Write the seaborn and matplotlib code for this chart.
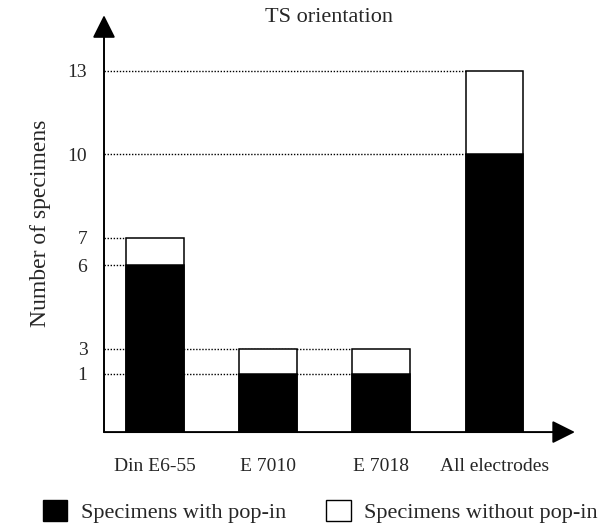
import matplotlib
matplotlib.use("Agg")
import matplotlib.pyplot as plt
import seaborn as sns
import pandas as pd
from matplotlib.patches import Patch

# Data (bar heights as drawn)
categories = ["Din E6-55", "E 7010", "E 7018", "All electrodes"]
total_specimens = [7, 3, 3, 13]
with_popin = [6, 2.1, 2.1, 10]
tick_labels = {1: "1", 2.1: "1", 3: "3", 6: "6", 7: "7", 10: "10", 13: "13"}

sns.set_theme(style="white")
plt.rcParams["font.family"] = ["Liberation Serif", "DejaVu Serif"]

df = pd.DataFrame({"cat": categories, "total": total_specimens, "popin": with_popin})

fig = plt.figure(figsize=(6.1, 5.25), dpi=100)
ax = fig.add_axes([0.1705, 0.177, 0.772, 0.794])

bw = 0.51
sns.barplot(data=df, x="cat", y="total", order=categories, color="white",
            edgecolor="black", linewidth=1.1, width=bw, ax=ax, zorder=3)
sns.barplot(data=df, x="cat", y="popin", order=categories, color="black",
            edgecolor="black", linewidth=1.1, width=bw, ax=ax, zorder=4)
for p in ax.patches:
    p.set_alpha(1)

ax.set_xlim(-0.45, 3.71)
ax.set_ylim(0, 15)

# dotted guide lines from the axis to the last bar reaching each level
levels = sorted(set(total_specimens) | set(with_popin))
for lv in levels:
    idx = [i for i in range(len(categories))
           if total_specimens[i] == lv or with_popin[i] == lv]
    x_end = max(idx) - bw / 2
    ax.hlines(lv, -0.45, x_end, colors="black", linewidth=1.0,
              linestyles=(0, (1, 1.2)), zorder=2)

ax.set_yticks(levels)
ax.set_yticklabels([tick_labels[lv] for lv in levels], fontsize=14)
ax.tick_params(axis="y", length=0, pad=12)
ax.tick_params(axis="x", length=0, pad=19, labelsize=14)
ax.set_xlabel("")
ax.set_ylabel("Number of specimens", fontsize=17, labelpad=12)

for s in ax.spines.values():
    s.set_visible(False)

# axes with arrows
ax.annotate("", xy=(0, 1.0), xytext=(0, 0), xycoords="axes fraction",
            arrowprops=dict(arrowstyle="-|>,head_length=0.5,head_width=0.25",
                            color="black", lw=1.4,
                            mutation_scale=28, shrinkA=0, shrinkB=0))
ax.annotate("", xy=(1.0, 0), xytext=(0, 0), xycoords="axes fraction",
            arrowprops=dict(arrowstyle="-|>,head_length=0.5,head_width=0.25",
                            color="black", lw=1.4,
                            mutation_scale=28, shrinkA=0, shrinkB=0))

fig.text(0.54, 0.967, "TS orientation", ha="center", va="center", fontsize=16)

handles = [Patch(facecolor="black", edgecolor="black"),
           Patch(facecolor="white", edgecolor="black", linewidth=1)]
fig.legend(handles, ["Specimens with pop-in", "Specimens without pop-in"],
           loc="lower center", bbox_to_anchor=(0.525, -0.035), ncol=2,
           frameon=False, fontsize=16, handlelength=1.1, handleheight=1.1,
           handletextpad=0.6, columnspacing=1.8)

fig.savefig("out.png", dpi=100)
